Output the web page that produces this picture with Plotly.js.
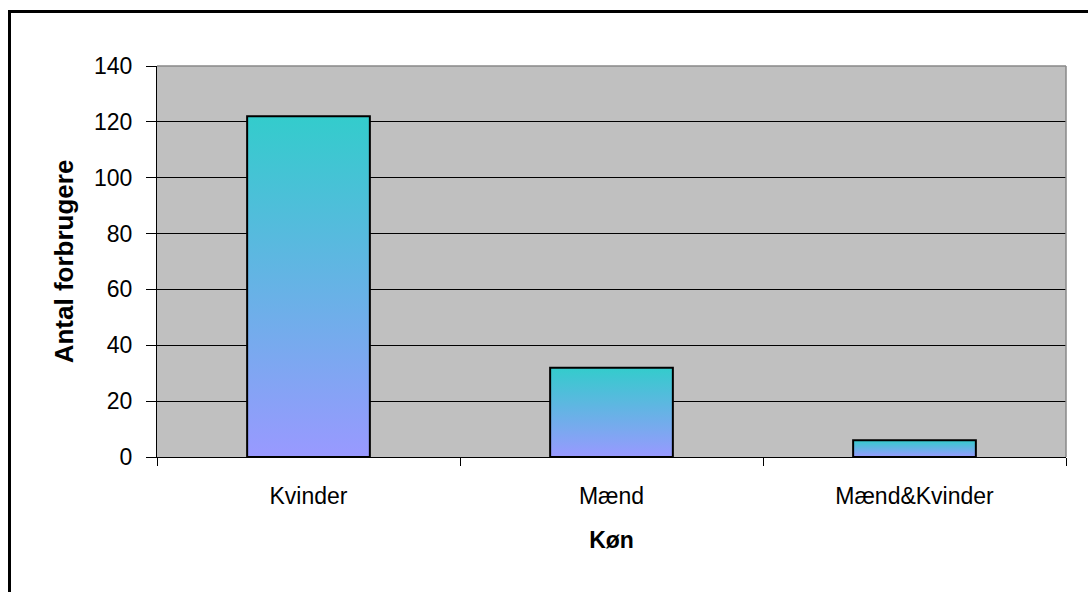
<!DOCTYPE html>
<html>
<head>
<meta charset="utf-8">
<script src="https://cdn.plot.ly/plotly-3.0.1.min.js"></script>
<style>
  html, body { margin: 0; padding: 0; background: #ffffff; overflow: hidden; }
  #chart { width: 1088px; height: 592px; position: relative; }
  #frame {
    position: absolute; left: 8px; top: 10px; width: 2000px; height: 2000px;
    border-left: 3px solid #000; border-top: 3px solid #000;
    pointer-events: none; box-sizing: border-box;
  }
</style>
</head>
<body>
<div id="chart"></div>
<div id="frame"></div>
<script>
// Number of consumers by gender
const categories = ["Kvinder", "Mænd", "Mænd&Kvinder"];
const consumers = [122, 32, 6];
const yTickValues = [0, 20, 40, 60, 80, 100, 120, 140];

const FONT = "Liberation Sans, Arial, sans-serif";

const trace = {
  type: "bar",
  x: categories,
  y: consumers,
  marker: { color: "#66B2E5", line: { color: "#000000", width: 2 } },
  hoverinfo: "x+y"
};

const layout = {
  width: 1088,
  height: 592,
  paper_bgcolor: "#ffffff",
  plot_bgcolor: "#C0C0C0",
  margin: { l: 157, r: 22, t: 66, b: 135 },
  bargap: 0.595,
  showlegend: false,
  font: { family: FONT, color: "#000000", size: 23 },
  xaxis: {
    type: "category",
    showline: true, linecolor: "#000000", linewidth: 1,
    ticks: "outside", tickson: "boundaries", ticklen: 8, tickcolor: "#000000",
    ticklabelstandoff: 18,
    showgrid: false, zeroline: false,
    tickfont: { family: FONT, size: 23 },
    title: { text: "<b>Køn</b>", font: { family: FONT, size: 23 }, standoff: 24 }
  },
  yaxis: {
    range: [0, 140],
    tickvals: yTickValues,
    ticktext: yTickValues.map(String),
    showline: true, linecolor: "#000000", linewidth: 1,
    ticks: "outside", ticklen: 10, tickcolor: "#000000",
    ticklabelstandoff: 9,
    showgrid: true, gridcolor: "#000000", gridwidth: 1,
    zeroline: false,
    tickfont: { family: FONT, size: 23 },
    title: { text: "<b>Antal forbrugere</b>", font: { family: FONT, size: 26 }, standoff: 12 }
  },
  shapes: [
    // top and right edges of the plot area
    { type: "line", xref: "paper", yref: "paper", x0: 0, x1: 1, y0: 1, y1: 1,
      line: { color: "#888888", width: 1.5 }, layer: "above" },
    { type: "line", xref: "paper", yref: "paper", x0: 1, x1: 1, y0: 0, y1: 1,
      line: { color: "#888888", width: 1.5 }, layer: "above" }
  ]
};

Plotly.newPlot("chart", [trace], layout, { staticPlot: true, displayModeBar: false }).then(function (gd) {
  // vertical two-colour fill on every bar: cyan at the top, lavender at the bottom
  const svg = gd.querySelector("svg.main-svg");
  const ns = "http://www.w3.org/2000/svg";
  let defs = svg.querySelector("defs");
  if (!defs) { defs = document.createElementNS(ns, "defs"); svg.insertBefore(defs, svg.firstChild); }
  const grad = document.createElementNS(ns, "linearGradient");
  grad.setAttribute("id", "barFill");
  grad.setAttribute("x1", "0"); grad.setAttribute("y1", "0");
  grad.setAttribute("x2", "0"); grad.setAttribute("y2", "1");
  [["0", "#33CCCC"], ["1", "#9999FF"]].forEach(function (s) {
    const stop = document.createElementNS(ns, "stop");
    stop.setAttribute("offset", s[0]);
    stop.setAttribute("stop-color", s[1]);
    grad.appendChild(stop);
  });
  defs.appendChild(grad);
  gd.querySelectorAll(".trace.bars .point path").forEach(function (p) {
    p.style.fill = "url(#barFill)";
  });
});
</script>
</body>
</html>
